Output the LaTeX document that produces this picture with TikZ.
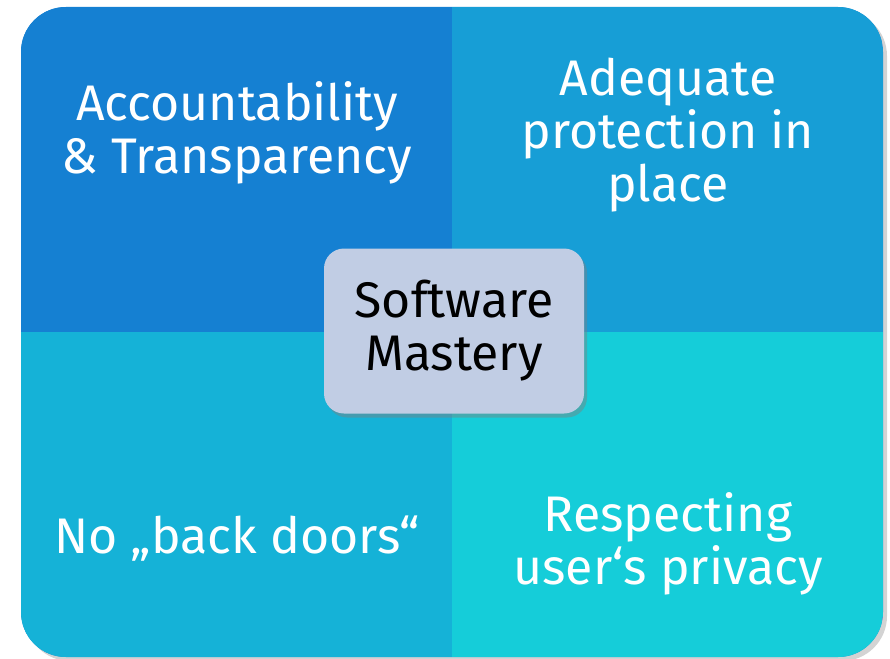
\documentclass[tikz,border=0pt]{standalone}
\usepackage{fontspec}
\setmainfont{Fira Sans}
\usetikzlibrary{shadows}

\definecolor{tlblue}{HTML}{1580D2}
\definecolor{trblue}{HTML}{179ED6}
\definecolor{blblue}{HTML}{15B2D7}
\definecolor{brblue}{HTML}{15CDD9}
\definecolor{coregrey}{HTML}{C1CDE4}

\begin{document}
\begin{tikzpicture}[x=1pt, y=-1pt,
    quadtext/.style={text=white, align=center,
                     font=\fontsize{50}{53}\selectfont},
    core/.style={fill=coregrey, rounded corners=20pt, align=center,
                 minimum width=260pt, minimum height=165pt,
                 font=\fontsize{50}{53}\selectfont,
                 drop shadow={shadow xshift=3pt, shadow yshift=-4pt, opacity=0.45}}]
\useasboundingbox (0,0) rectangle (890,658);

% outer frame with its shadow
\path[fill=tlblue, rounded corners=45pt,
      drop shadow={shadow xshift=4pt, shadow yshift=-4pt, opacity=0.35}]
  (21,7) rectangle (883,657);

% the four quarters
\begin{scope}
  \clip[rounded corners=45pt] (21,7) rectangle (883,657);
  \fill[tlblue] (21,7) rectangle (452,332);
  \fill[trblue] (452,7) rectangle (883,332);
  \fill[blblue] (21,332) rectangle (452,657);
  \fill[brblue] (452,332) rectangle (883,657);
\end{scope}

\node[quadtext] (account) at (237,133) {Accountability\\\& Transparency};
\node[quadtext] (protect) at (668,135) {Adequate\\protection in\\place};
\node[quadtext] (doors) at (237,539) {No „back doors“};
\node[quadtext] (privacy) at (668,544) {Respecting\\user‘s privacy};

\node[core] (mastery) at (454,331) {Software\\Mastery};
\end{tikzpicture}
\end{document}
